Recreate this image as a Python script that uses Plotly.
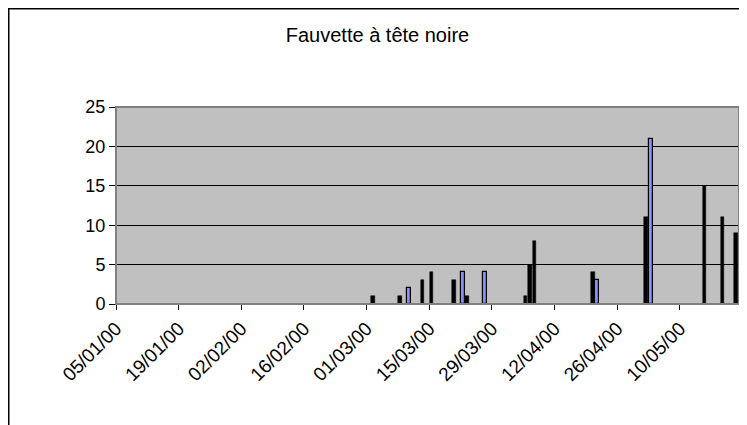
import plotly.graph_objects as go
import pandas as pd

title = "Fauvette à tête noire"

black_dates = ["2000-03-02", "2000-03-08", "2000-03-13", "2000-03-15", "2000-03-20",
               "2000-03-23", "2000-04-05", "2000-04-06", "2000-04-07", "2000-04-20",
               "2000-05-02", "2000-05-15", "2000-05-19", "2000-05-22"]
black_values = [1, 1, 3, 4, 3, 1, 1, 5, 8, 4, 11, 15, 11, 9]

blue_dates = ["2000-03-10", "2000-03-22", "2000-03-27", "2000-04-21", "2000-05-03"]
blue_values = [2, 4, 4, 3, 21]

tick_dates = ["2000-01-05", "2000-01-19", "2000-02-02", "2000-02-16", "2000-03-01",
              "2000-03-15", "2000-03-29", "2000-04-12", "2000-04-26", "2000-05-10"]
tick_labels = ["05/01/00", "19/01/00", "02/02/00", "16/02/00", "01/03/00",
               "15/03/00", "29/03/00", "12/04/00", "26/04/00", "10/05/00"]

y_ticks = [0, 5, 10, 15, 20, 25]

half_day = pd.Timedelta(hours=12)
bx = pd.to_datetime(black_dates) + half_day
ux = pd.to_datetime(blue_dates) + half_day
day_ms = 86400000

fig = go.Figure()
fig.add_trace(go.Bar(x=bx, y=black_values, width=0.85 * day_ms,
                     marker=dict(color="black", line=dict(color="black", width=0.5)),
                     showlegend=False))
fig.add_trace(go.Bar(x=ux, y=blue_values, width=0.95 * day_ms,
                     marker=dict(color="#8C8CFF", line=dict(color="black", width=1.2)),
                     showlegend=False))

font = "Liberation Sans, Arial, sans-serif"
# the page body adds an 8px margin, so the figure covers the rest of the window
W, H = 739, 417
L, R, T, B = 108, 8, 99, 121
pw, ph = W - L - R, H - T - B

def px_x(p):
    return (p - L) / pw

def px_y(p):
    return (H - B - p) / ph

fig.update_layout(
    width=W, height=H,
    margin=dict(l=L, r=R, t=T, b=B),
    paper_bgcolor="white",
    plot_bgcolor="#C0C0C0",
    barmode="overlay",
    bargap=0,
    font=dict(family=font, color="black", size=18),
    title=dict(text=title, x=0.5, xanchor="center", y=1 - 27 / H, yanchor="middle",
               font=dict(family=font, size=20, color="black")),
    xaxis=dict(
        type="date",
        range=["2000-01-05", "2000-05-23 05:00"],
        tickvals=tick_dates, ticktext=tick_labels,
        tickangle=-45,
        ticks="outside", ticklen=5, tickcolor="black", tickwidth=1,
        showgrid=False, zeroline=False,
        showline=True, linecolor="black", linewidth=1,
        tickfont=dict(family=font, size=19, color="black"),
    ),
    yaxis=dict(
        range=[0, 25],
        tickvals=y_ticks,
        ticks="outside", ticklen=6, tickcolor="black", tickwidth=1,
        showgrid=True, gridcolor="black", gridwidth=1,
        zeroline=False,
        showline=True, linecolor="#404040", linewidth=1,
        tickfont=dict(family=font, size=18, color="black"),
    ),
    shapes=[
        dict(type="rect", xref="paper", yref="paper", x0=0, x1=1, y0=0, y1=1,
             line=dict(color="#808080", width=2), layer="above"),
        dict(type="rect", xref="paper", yref="paper",
             x0=px_x(0.5), x1=px_x(760), y0=px_y(0.5), y1=px_y(440),
             line=dict(color="black", width=2), fillcolor="rgba(0,0,0,0)"),
    ],
)

fig.write_html("out.html")
